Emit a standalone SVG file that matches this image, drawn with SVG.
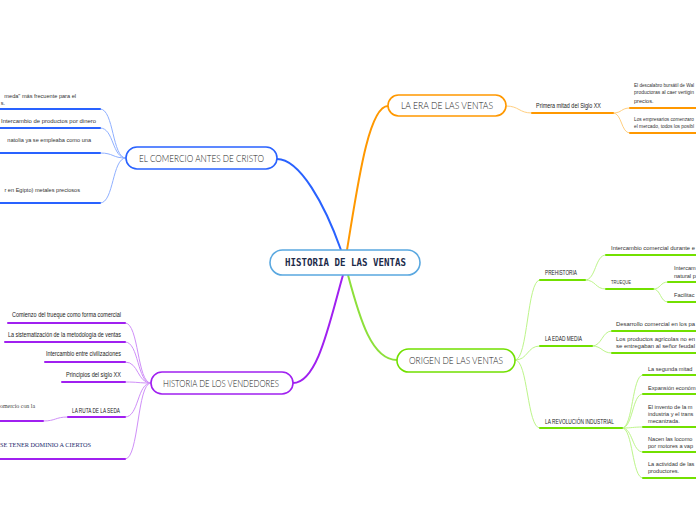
<svg xmlns="http://www.w3.org/2000/svg" width="696" height="520" viewBox="0 0 696 520">
<style>
.bg{fill:#fff}
.box{fill:#fff;stroke-width:1.6}
.main{font-family:Lato,"Liberation Sans",Arial,sans-serif;font-weight:300;font-size:9.5px;fill:#222}
.root{font-family:"DejaVu Sans Mono",monospace;font-size:10px;font-weight:bold;fill:#1c2b4a}
.t{font-family:"Liberation Sans",Arial,sans-serif;font-size:5.6px;fill:#333}
.tn{font-family:"Liberation Sans",Arial,sans-serif;font-size:4.6px;fill:#333}
.c{font-family:"Liberation Sans",Arial,sans-serif;font-size:6.4px;fill:#222}
.s{font-family:"Liberation Serif","Times New Roman",serif;font-size:6.5px}
.b{stroke:#2962ff}.bl{stroke:#8fb0ff}
.o{stroke:#ff9800}.ol{stroke:#ffcf80}
.p{stroke:#a020f0}.pl{stroke:#cf8ff8}
.g{stroke:#72e000}.gl{stroke:#bdf58a}
.u{fill:none;stroke-width:2;stroke-linecap:round}
.l{fill:none;stroke-width:1}
.m{fill:none;stroke-width:2}
</style>
<rect class="bg" width="696" height="520"/>
<g id="connectors">
  <path class="m b" d="M341,250 C325,205 300,159 277,159"/>
  <path class="m o" d="M347,250 C357,190 368,106 388,106"/>
  <path class="m p" d="M343,275 C330,320 318,383 293,383"/>
  <path class="m" stroke="#8de03a" d="M348,275 C360,320 372,360 397,360"/>
  <path class="l bl" d="M126,158 C112,158 114,109 100,109"/>
  <path class="l bl" d="M126,158 C112,158 114,128 100,128"/>
  <path class="l bl" d="M126,158 C112,158 114,153 100,153"/>
  <path class="l bl" d="M126,158 C112,158 114,203 100,203"/>
  <path class="u b" d="M-2,109 H100 M-2,128 H100 M-2,153 H100 M-2,203 H100"/>
  <path class="l pl" d="M151,383 C137,383 139,323 125,323"/>
  <path class="l pl" d="M151,383 C137,383 139,342 125,342"/>
  <path class="l pl" d="M151,383 C137,383 139,362 125,362"/>
  <path class="l pl" d="M151,383 C137,383 139,382 125,382"/>
  <path class="l pl" d="M151,383 C137,383 139,417 125,417"/>
  <path class="l pl" d="M151,383 C137,383 139,459 125,459"/>
  <path class="l pl" d="M68,417 C55,417 56,421 43,421"/>
  <path class="u p" d="M8,323 H125 M5,342 H125 M45,362 H125 M62,382 H125 M68,417 H125 M-2,421 H43 M-2,459 H125"/>
  <path class="l ol" d="M506,106 C519,106 519,113 532,113"/>
  <path class="l ol" d="M613,113 C622,113 621,108 630,108"/>
  <path class="l ol" d="M613,113 C622,113 621,133 630,133"/>
  <path class="u o" d="M532,113 H613 M630,108 H698 M630,133 H698"/>
  <path class="l gl" d="M515,360 C528,360 527,280 540,280"/>
  <path class="l gl" d="M515,360 C528,360 527,346 540,346"/>
  <path class="l gl" d="M515,360 C528,360 527,428 540,428"/>
  <path class="l gl" d="M585,280 C596,280 595,255 606,255"/>
  <path class="l gl" d="M585,280 C596,280 595,289 606,289"/>
  <path class="l gl" d="M653,289 C661,289 660,282 668,282"/>
  <path class="l gl" d="M653,289 C661,289 660,302 668,302"/>
  <path class="l gl" d="M592,346 C602,346 602,331 612,331"/>
  <path class="l gl" d="M592,346 C602,346 602,353 612,353"/>
  <path class="l gl" d="M622,428 C633,428 632,375 643,375"/>
  <path class="l gl" d="M622,428 C633,428 632,394 643,394"/>
  <path class="l gl" d="M622,428 C633,428 632,427 643,427"/>
  <path class="l gl" d="M622,428 C633,428 632,452 643,452"/>
  <path class="l gl" d="M622,428 C633,428 632,478 643,478"/>
  <path class="u g" d="M540,280 H585 M540,346 H592 M540,428 H622 M606,255 H698 M606,289 H653 M668,282 H698 M668,302 H698 M612,331 H698 M612,353 H698 M643,375 H698 M643,394 H698 M643,427 H698 M643,452 H698 M643,478 H698"/>
</g>
<g id="root">
  <rect class="box" x="270" y="250" width="150" height="25" rx="12.5" stroke="#5aa8e0"/>
  <text class="root" x="285" y="266" textLength="121" lengthAdjust="spacingAndGlyphs">HISTORIA DE LAS VENTAS</text>
</g>
<g id="comercio">
  <rect class="box" x="126" y="147" width="151" height="22" rx="11" stroke="#2962ff"/>
  <text class="main" x="139" y="162" textLength="125" lengthAdjust="spacingAndGlyphs">EL COMERCIO ANTES DE CRISTO</text>
</g>
<g id="era">
  <rect class="box" x="388" y="95" width="118" height="21" rx="10.5" stroke="#ff9800"/>
  <text class="main" x="401" y="109" textLength="92" lengthAdjust="spacingAndGlyphs">LA ERA DE LAS VENTAS</text>
</g>
<g id="vendedores">
  <rect class="box" x="151" y="372" width="142" height="22" rx="11" stroke="#a020f0"/>
  <text class="main" x="163" y="386.5" textLength="116" lengthAdjust="spacingAndGlyphs">HISTORIA DE LOS VENDEDORES</text>
</g>
<g id="origen">
  <rect class="box" x="397" y="349" width="118" height="23" rx="11.5" stroke="#72e000"/>
  <text class="main" x="409" y="364" textLength="94" lengthAdjust="spacingAndGlyphs">ORIGEN DE LAS VENTAS</text>
</g>
<g id="comercio-children">
  <text class="t" x="76" y="98" text-anchor="end">meda" más frecuente para el</text>
  <text class="t" x="5" y="105" text-anchor="end">s.</text>
  <text class="t" x="1" y="123" textLength="95" lengthAdjust="spacingAndGlyphs">Intercambio de productos por dinero</text>
  <text class="t" x="91" y="142" text-anchor="end">natolia ya se empleaba como una</text>
  <text class="t" x="80" y="192" text-anchor="end">r en Egipto) metales preciosos</text>
</g>
<g id="vendedores-children">
  <text class="c" x="121" y="317" text-anchor="end" textLength="109" lengthAdjust="spacingAndGlyphs">Comienzo del trueque como forma comercial</text>
  <text class="c" x="121" y="337" text-anchor="end" textLength="113" lengthAdjust="spacingAndGlyphs">La sistematización de la metodología de ventas</text>
  <text class="c" x="121" y="356" text-anchor="end" textLength="75" lengthAdjust="spacingAndGlyphs">Intercambio entre civilizaciones</text>
  <text class="c" x="121" y="377" text-anchor="end" textLength="55" lengthAdjust="spacingAndGlyphs">Principios del siglo XX</text>
  <text class="c" x="120" y="413" text-anchor="end" textLength="48" lengthAdjust="spacingAndGlyphs">LA RUTA DE LA SEDA</text>
  <text class="s" x="0" y="408" fill="#444" textLength="35" lengthAdjust="spacingAndGlyphs">omercio con la</text>
  <text class="s" x="0" y="447" fill="#1a2a6c" textLength="91" lengthAdjust="spacingAndGlyphs">SE TENER DOMINIO A CIERTOS</text>
</g>
<g id="era-children">
  <text class="c" x="536" y="108" textLength="65" lengthAdjust="spacingAndGlyphs">Primera mitad del Siglo XX</text>
  <text class="tn" x="634" y="87" textLength="60" lengthAdjust="spacingAndGlyphs">El descalabro bursátil de Wal</text>
  <text class="tn" x="634" y="94" textLength="60" lengthAdjust="spacingAndGlyphs">productoras al caer vertigin</text>
  <text class="t" x="634" y="103">precios.</text>
  <text class="tn" x="634" y="121" textLength="60" lengthAdjust="spacingAndGlyphs">Los empresarios comenzaro</text>
  <text class="tn" x="634" y="128" textLength="60" lengthAdjust="spacingAndGlyphs">el mercado, todos los posibl</text>
</g>
<g id="origen-children">
  <text class="c" x="545" y="275" textLength="32" lengthAdjust="spacingAndGlyphs">PREHISTORIA</text>
  <text class="c" x="545" y="341" textLength="37" lengthAdjust="spacingAndGlyphs">LA EDAD MEDIA</text>
  <text class="c" x="545" y="424" textLength="69" lengthAdjust="spacingAndGlyphs">LA REVOLUCIÓN INDUSTRIAL</text>
  <text class="t" x="611" y="250" textLength="84" lengthAdjust="spacingAndGlyphs">Intercambio comercial durante e</text>
  <text class="t" x="611" y="284" textLength="20" lengthAdjust="spacingAndGlyphs">TRUEQUE</text>
  <text class="t" x="674" y="270">Intercam</text>
  <text class="t" x="674" y="278">natural p</text>
  <text class="t" x="674" y="297">Facilitac</text>
  <text class="t" x="616" y="326" textLength="79" lengthAdjust="spacingAndGlyphs">Desarrollo comercial en los pa</text>
  <text class="t" x="616" y="341" textLength="79" lengthAdjust="spacingAndGlyphs">Los productos agrícolas no en</text>
  <text class="t" x="616" y="348" textLength="79" lengthAdjust="spacingAndGlyphs">se entregaban al señor feudal</text>
  <text class="t" x="648" y="371">La segunda mitad</text>
  <text class="t" x="648" y="390">Expansión económ</text>
  <text class="t" x="648" y="409">El invento de la m</text>
  <text class="t" x="648" y="416">industria y el trans</text>
  <text class="t" x="648" y="423">mecanizada.</text>
  <text class="t" x="648" y="441">Nacen las locomo</text>
  <text class="t" x="648" y="448">por motores a vap</text>
  <text class="t" x="648" y="466">La actividad de las</text>
  <text class="t" x="648" y="473">productores.</text>
</g>
</svg>
